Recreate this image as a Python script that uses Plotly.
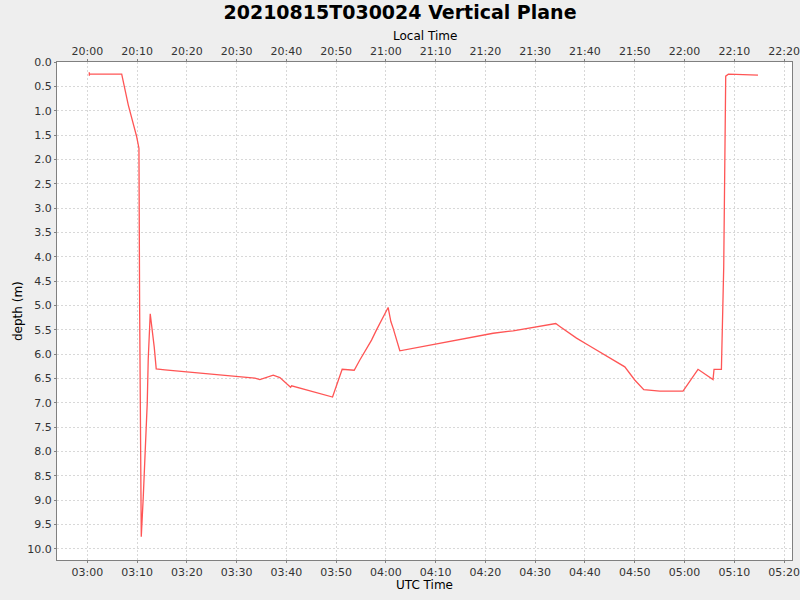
import pandas as pd
import plotly.graph_objects as go

# UTC time stamps (2021-08-15) and depth in metres
utc_times = ['03:00:24', '03:00:25', '03:00:27', '03:06:55', '03:07:34', '03:08:14',
             '03:09:55', '03:10:23', '03:10:31', '03:10:51', '03:11:15', '03:12:03',
             '03:12:15', '03:12:39', '03:13:27', '03:13:51', '03:15:36', '03:19:37',
             '03:23:59', '03:26:31', '03:30:40', '03:33:41', '03:34:41', '03:37:22',
             '03:38:42', '03:40:51', '03:41:03', '03:45:23', '03:49:17', '03:51:13',
             '03:53:38', '03:54:46', '03:57:07', '03:58:07', '04:00:27', '04:01:00',
             '04:01:28', '04:02:48', '04:08:10', '04:12:11', '04:17:32', '04:21:33',
             '04:25:34', '04:29:35', '04:34:08', '04:34:57', '04:38:18', '04:40:37',
             '04:43:59', '04:48:00', '04:50:00', '04:51:49', '04:55:02', '04:59:42',
             '05:02:43', '05:04:04', '05:05:44', '05:05:56', '05:07:25', '05:07:53',
             '05:08:17', '05:08:49', '05:14:46']
depth = [0.21, 0.28, 0.25, 0.25, 0.53, 0.88,
         1.53, 1.77, 5.0, 9.75, 8.93, 7.0,
         6.1, 5.17, 5.85, 6.3, 6.32, 6.36,
         6.39, 6.43, 6.46, 6.49, 6.52, 6.43,
         6.48, 6.68, 6.65, 6.77, 6.88, 6.31,
         6.33, 6.12, 5.71, 5.5, 5.04, 5.33,
         5.47, 5.93, 5.83, 5.74, 5.64, 5.57,
         5.52, 5.45, 5.37, 5.43, 5.67, 5.81,
         6.02, 6.26, 6.53, 6.73, 6.76, 6.76,
         6.31, 6.41, 6.52, 6.31, 6.31, 4.2,
         0.29, 0.25, 0.27]
utc_offset_hours = -7

t_utc = pd.to_datetime(['2021-08-15 ' + t for t in utc_times])
t_local = t_utc + pd.Timedelta(hours=utc_offset_hours)

x_range = [pd.Timestamp('2021-08-15 02:53:55'), pd.Timestamp('2021-08-15 05:21:36')]
x_range_local = [r + pd.Timedelta(hours=utc_offset_hours) for r in x_range]

grid = '#d8d8d8'
axis_col = '#808080'
font = dict(family='DejaVu Sans', size=11, color='#333333')

fig = go.Figure()
fig.add_trace(go.Scatter(x=t_utc, y=depth, mode='lines',
                         line=dict(color='#ff5555', width=1.3),
                         showlegend=False, hoverinfo='x+y'))
fig.add_trace(go.Scatter(x=t_local, y=depth, mode='lines', xaxis='x2',
                         line=dict(color='rgba(0,0,0,0)', width=0),
                         showlegend=False, hoverinfo='skip'))

common_x = dict(tickformat='%H:%M', dtick=600000, showgrid=True,
                gridcolor=grid, griddash='2px,2px', gridwidth=1,
                showline=True, linecolor=axis_col, linewidth=1,
                ticks='outside', ticklen=2, tickcolor=axis_col,
                tickfont=font, zeroline=False, automargin=False)

fig.update_layout(
    width=800, height=600,
    paper_bgcolor='#eeeeee', plot_bgcolor='white',
    margin=dict(l=57, r=8, t=62, b=40),
    font=dict(family='DejaVu Sans', color='black'),
    title=dict(text='<b>20210815T030024 Vertical Plane</b>', x=0.5, xanchor='center',
               y=0.98, yanchor='middle', font=dict(size=19, family='DejaVu Sans')),
    xaxis=dict(range=x_range, **common_x),
    xaxis2=dict(range=x_range_local, overlaying='x', side='top', anchor='y', **common_x),
    yaxis=dict(range=[10.226, 0], dtick=0.5, tickformat='.1f', showgrid=True,
               gridcolor=grid, griddash='2px,2px', showline=True, mirror=True,
               linecolor=axis_col, ticks='outside', ticklen=2, tickcolor=axis_col,
               tickfont=font, zeroline=False, automargin=False),
)

# axis titles placed as in the reference
fig.add_annotation(text='UTC Time', x=0.5, xref='paper', y=-25/498, yref='paper',
                   yanchor='middle', showarrow=False, font=dict(size=12))
fig.add_annotation(text='Local Time', x=0.5, xref='paper', y=1 + 26/498, yref='paper',
                   yanchor='middle', showarrow=False, font=dict(size=12))
fig.add_annotation(text='depth (m)', x=-39/735, xref='paper', y=0.5, yref='paper',
                   xanchor='center', textangle=-90, showarrow=False, font=dict(size=12))

fig.write_html('out.html', config={'displayModeBar': False},
               post_script="document.body.style.margin='0';")
